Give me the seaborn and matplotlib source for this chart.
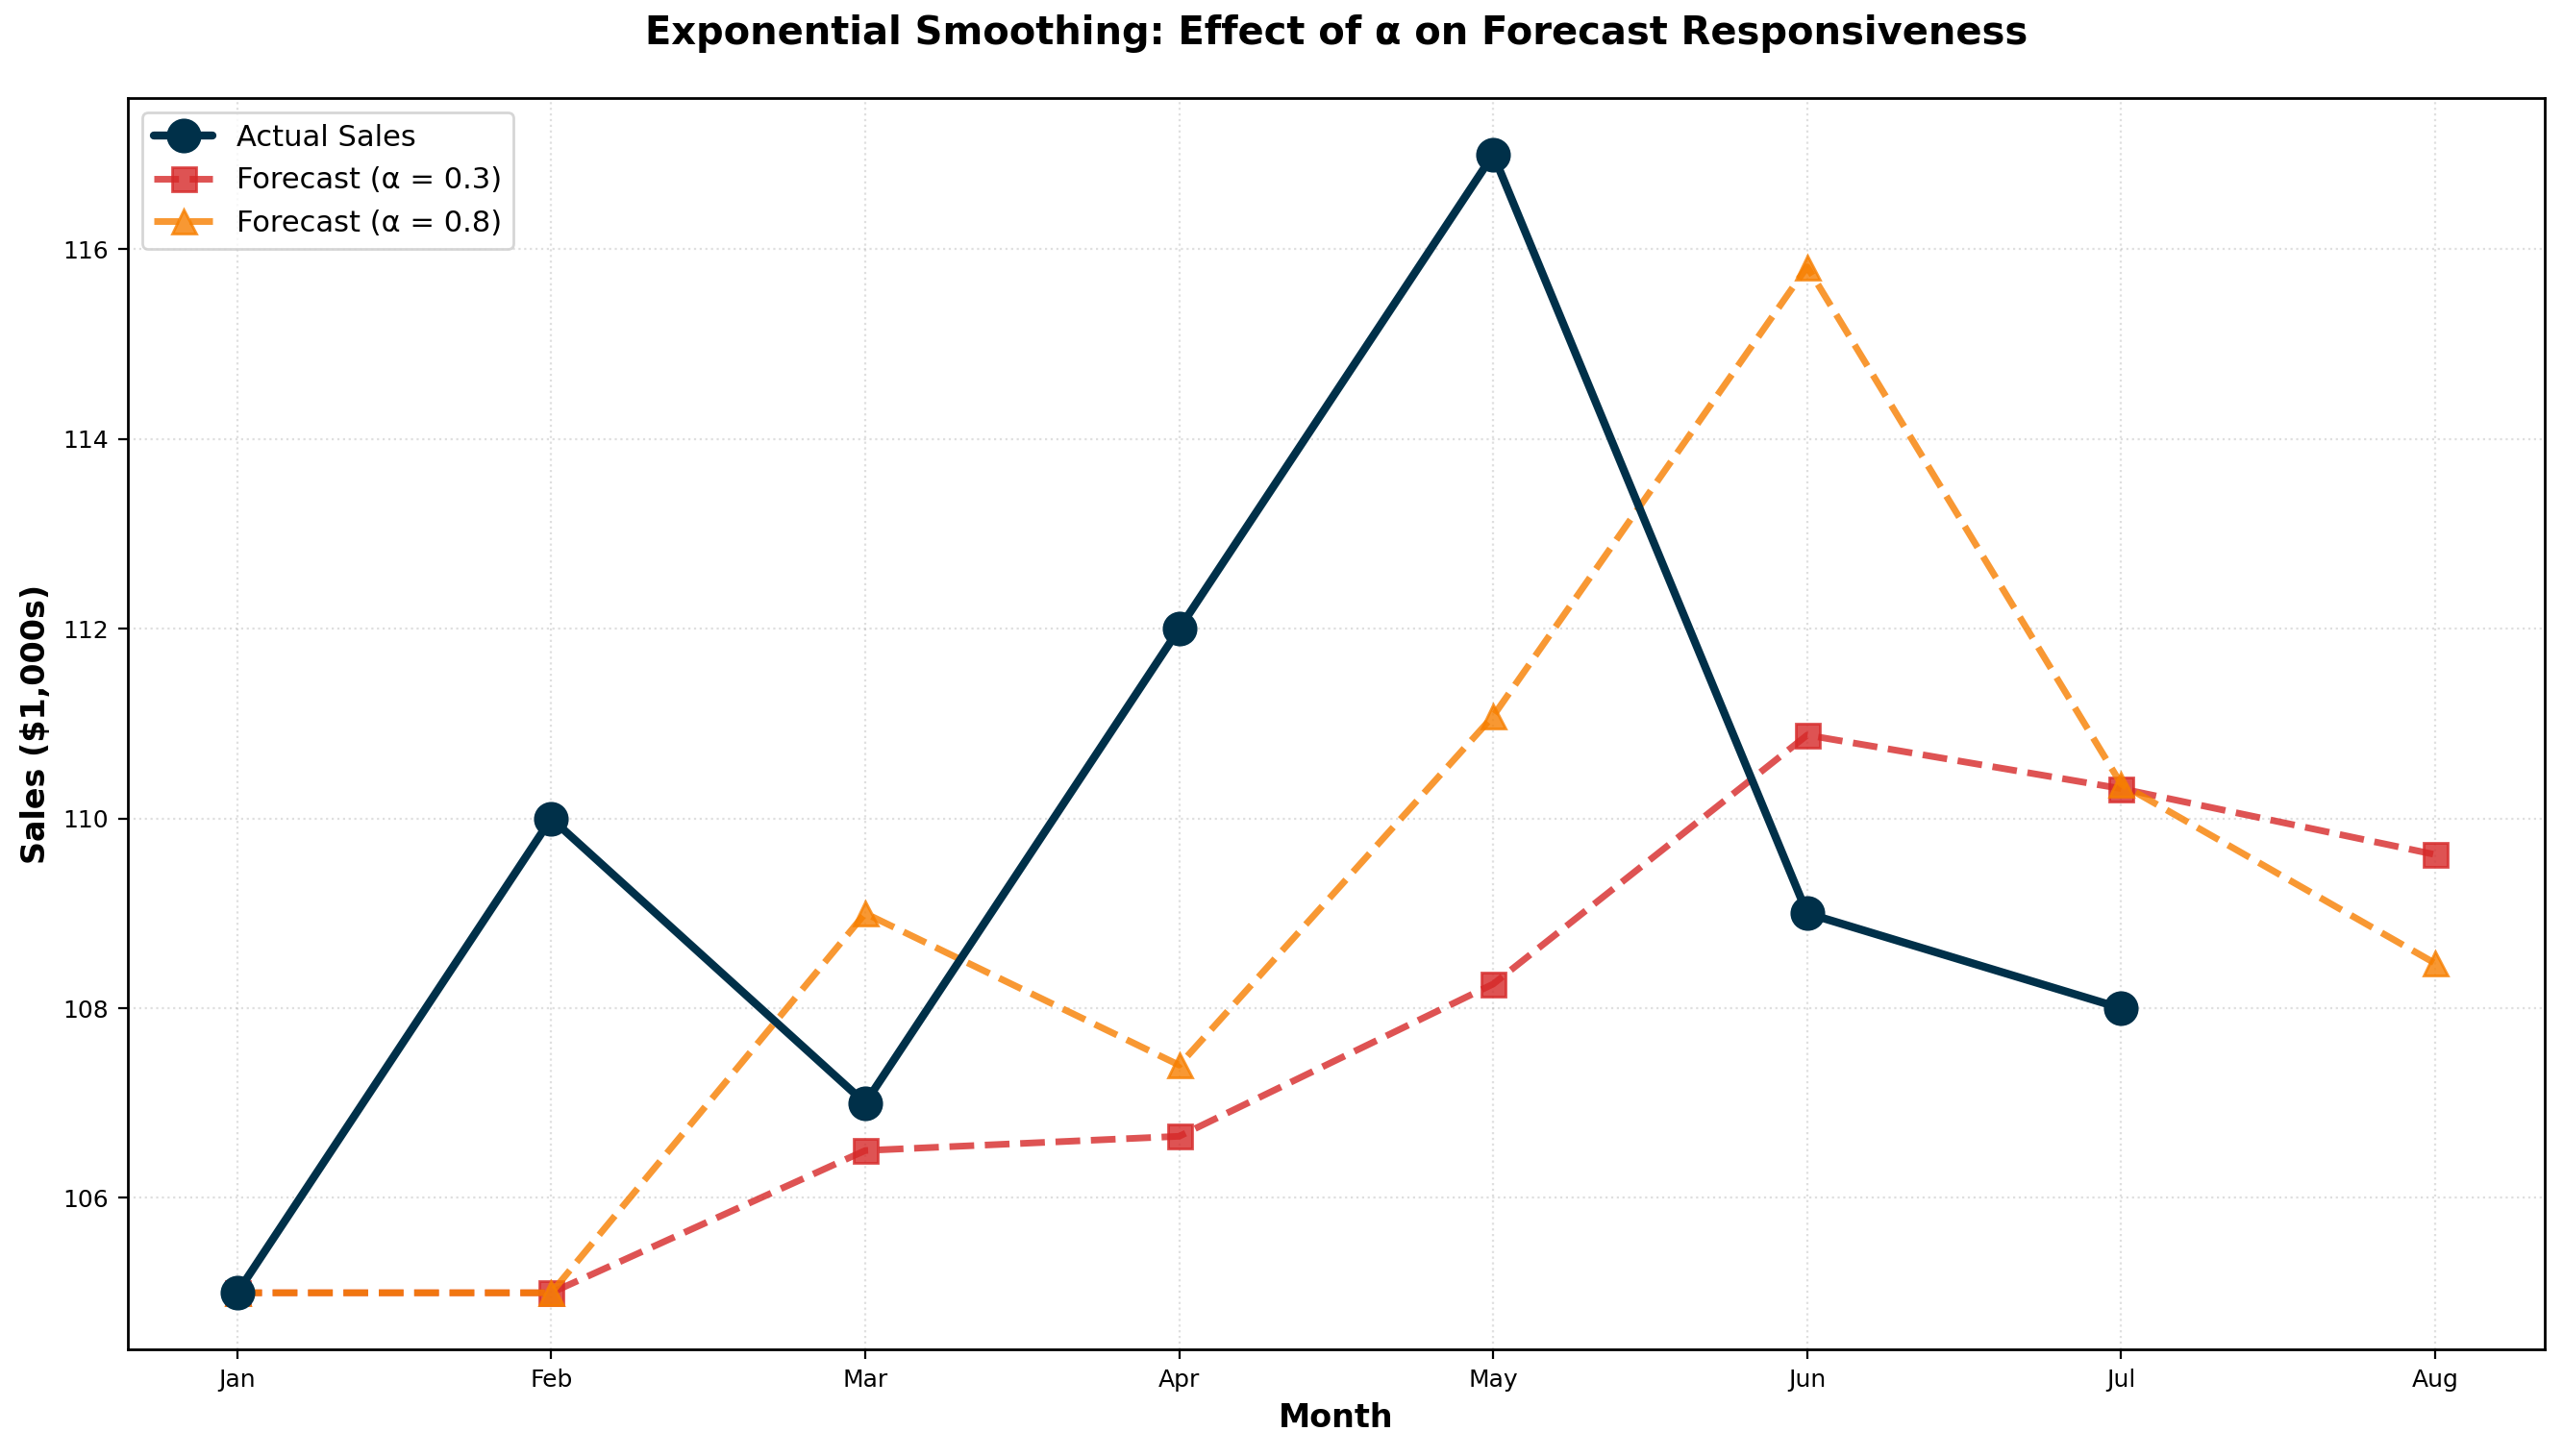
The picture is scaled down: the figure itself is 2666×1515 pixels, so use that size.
import matplotlib
matplotlib.use("Agg")
import matplotlib.pyplot as plt
import seaborn as sns
import pandas as pd

months = ["Jan", "Feb", "Mar", "Apr", "May", "Jun", "Jul", "Aug"]
actual_months = ["Jan", "Feb", "Mar", "Apr", "May", "Jun", "Jul"]
actual_sales = [105, 110, 107, 112, 117, 109, 108]
forecast_03 = [105, 105, 106.5, 106.65, 108.255, 110.879, 110.315, 109.62]
forecast_08 = [105, 105, 109.0, 107.4, 111.08, 115.816, 110.363, 108.473]

sns.set_style("ticks")
plt.rcParams['font.family'] = ['DejaVu Sans']
for k in ["text.color", "axes.labelcolor", "xtick.color", "ytick.color", "axes.edgecolor"]:
    plt.rcParams[k] = "black"

fig, ax = plt.subplots(figsize=(13.33, 7.575), dpi=200)
fig.subplots_adjust(left=0.0497, right=0.993, top=0.933, bottom=0.073)

x_all = list(range(len(months)))
x_act = list(range(len(actual_months)))

df_a = pd.DataFrame({"x": x_act, "y": actual_sales})
df_3 = pd.DataFrame({"x": x_all, "y": forecast_03})
df_8 = pd.DataFrame({"x": x_all, "y": forecast_08})

c_a, c_3, c_8 = "#003049", "#d62828", "#f77f00"
sns.lineplot(data=df_a, x="x", y="y", ax=ax, color=c_a, linewidth=3,
             marker="o", markersize=12, markeredgewidth=1, markeredgecolor=c_a,
             label="Actual Sales", zorder=3)
sns.lineplot(data=df_3, x="x", y="y", ax=ax, color=c_3, linewidth=2.5, alpha=0.8,
             linestyle="--", marker="s", markersize=9, markeredgewidth=1,
             markeredgecolor=c_3, label="Forecast (α = 0.3)", zorder=2)
sns.lineplot(data=df_8, x="x", y="y", ax=ax, color=c_8, linewidth=2.5, alpha=0.8,
             linestyle="--", marker="^", markersize=9, markeredgewidth=1,
             markeredgecolor=c_8, label="Forecast (α = 0.8)", zorder=2)

ax.set_xticks(x_all)
ax.set_xticklabels(months)
ax.margins(x=0.05, y=0.05)
ax.set_xlabel("Month", fontsize=12, fontweight="bold")
ax.set_ylabel("Sales ($1,000s)", fontsize=12, fontweight="bold")
ax.set_title("Exponential Smoothing: Effect of α on Forecast Responsiveness",
             fontsize=14.4, fontweight="bold", pad=20)
ax.grid(True, linestyle=":", alpha=0.25, color="gray")
ax.tick_params(axis="both", labelsize=9, colors="black")
for s in ax.spines.values():
    s.set_visible(True)
    s.set_color("black")
    s.set_linewidth(1)
ax.legend(loc="upper left", fontsize=11, frameon=True)

fig.savefig("out.png", dpi=200)
